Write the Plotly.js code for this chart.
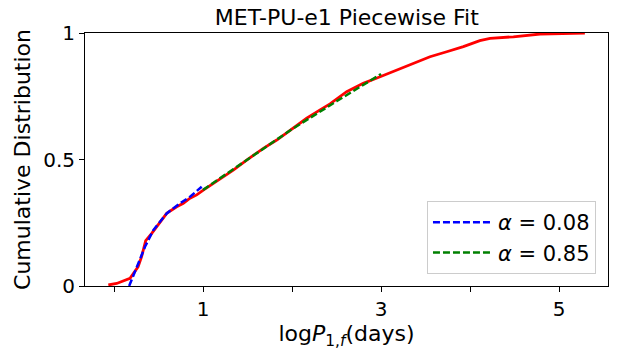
<!DOCTYPE html>
<html>
<head>
<meta charset="utf-8">
<script src="https://cdn.plot.ly/plotly-3.0.1.min.js"></script>
<style>
  body { margin: 0; background: #fff; }
  #cdf-plot { width: 626px; height: 350px; }
</style>
</head>
<body>
<div id="cdf-plot"></div>
<script>
var cdfX = [-0.064, 0.03, 0.18, 0.27, 0.31, 0.356, 0.424, 0.536, 0.592, 0.704, 0.779, 0.854, 0.929, 1.003,
            1.116, 1.228, 1.34, 1.49, 1.678, 1.828, 2.015, 2.165, 2.315, 2.427, 2.614, 2.80, 2.99, 3.176,
            3.363, 3.55, 3.738, 3.925, 4.11, 4.225, 4.487, 4.787, 5.29];
var cdfY = [0.004, 0.01, 0.03, 0.076, 0.116, 0.179, 0.208, 0.261, 0.287, 0.313, 0.327, 0.347, 0.360, 0.379,
            0.406, 0.432, 0.458, 0.498, 0.544, 0.577, 0.623, 0.663, 0.696, 0.720, 0.768, 0.801, 0.827, 0.854,
            0.880, 0.906, 0.926, 0.946, 0.970, 0.979, 0.985, 0.996, 1.0];

// Piecewise fits.
var fit1X = [0.17, 0.255, 0.348, 0.442, 0.592, 0.742, 0.854, 0.985];
var fit1Y = [0.0, 0.076, 0.155, 0.221, 0.287, 0.327, 0.353, 0.392];
var fit2X = [1.0, 1.5, 2.0, 2.5, 3.0];
var fit2Y = [0.38, 0.50, 0.62, 0.73, 0.838];

var fitNames = ["<i>α</i> = 0.08", "<i>α</i> = 0.85"];

var xTicks = [0, 1, 2, 3, 4, 5];
var xTickText = ["", "1", "", "3", "", "5"];
var yTicks = [0, 0.5, 1];
var yTickText = ["0", "0.5", "1"];

var data = [
  {x: cdfX, y: cdfY, mode: "lines", line: {color: "red", width: 2.8}, showlegend: false},
  {x: fit1X, y: fit1Y, mode: "lines", name: fitNames[0],
   line: {color: "blue", width: 2.5, dash: "7px,3px"}},
  {x: fit2X, y: fit2Y, mode: "lines", name: fitNames[1],
   line: {color: "green", width: 2.5, dash: "7px,3px"}}
];

var layout = {
  width: 626, height: 350,
  margin: {l: 85, r: 18, t: 33, b: 64},
  paper_bgcolor: "white", plot_bgcolor: "white",
  font: {family: "DejaVu Sans", size: 18.5, color: "black"},
  title: {text: "MET-PU-e1 Piecewise Fit", font: {family: "DejaVu Sans", size: 22}, x: 0.554, xanchor: "center", y: 0.95, yanchor: "middle"},
  xaxis: {
    range: [-0.326, 5.55], tickvals: xTicks, ticktext: xTickText,
    ticks: "outside", ticklen: 5, tickwidth: 1, tickcolor: "black",
    tickfont: {size: 20},
    showline: true, linecolor: "black", linewidth: 1, mirror: true,
    showgrid: false, zeroline: false,
    title: {text: "log<i>P</i><sub>1,<i>f</i></sub>(days)", font: {family: "DejaVu Sans", size: 22}, standoff: 3}
  },
  yaxis: {
    range: [0, 1], tickvals: yTicks, ticktext: yTickText,
    ticks: "outside", ticklen: 5, tickwidth: 1, tickcolor: "black",
    tickfont: {size: 20},
    showline: true, linecolor: "black", linewidth: 1, mirror: true,
    showgrid: false, zeroline: false,
    title: {text: "Cumulative Distribution", standoff: 6}
  },
  legend: {
    x: 0.977, y: 0.047, xanchor: "right", yanchor: "bottom",
    bgcolor: "rgba(255,255,255,0.8)", bordercolor: "#cccccc", borderwidth: 1,
    font: {size: 21}, tracegroupgap: 4, itemwidth: 60
  }
};

Plotly.newPlot("cdf-plot", data, layout, {displayModeBar: false});
</script>
</body>
</html>
